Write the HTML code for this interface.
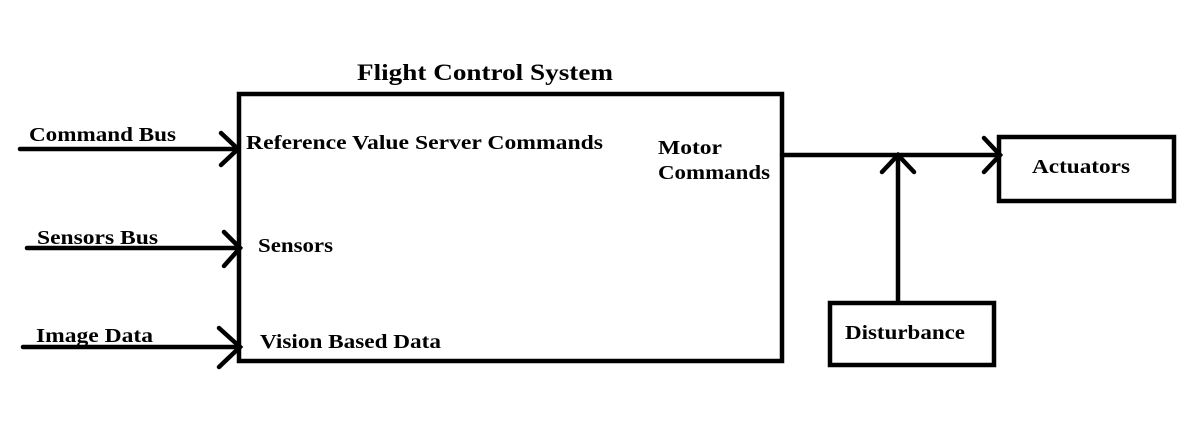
<!DOCTYPE html>
<html><head><style>
html,body{margin:0;padding:0;background:#fff;}
svg text{font-family:"Liberation Serif",serif;font-weight:bold;font-size:20px;fill:#000;}
</style></head><body>
<svg width="1189" height="428" viewBox="0 0 1189 428" xmlns="http://www.w3.org/2000/svg">
<g fill="none" stroke="#000" stroke-width="4.5" stroke-linecap="round" stroke-linejoin="miter">
<rect x="239" y="94" width="543" height="267"/>
<rect x="999" y="137" width="175" height="64"/>
<rect x="830" y="303" width="164" height="62"/>
<line x1="20" y1="149" x2="238" y2="149"/>
<polyline points="221,133 238,149 221,165"/>
<line x1="27" y1="248" x2="240" y2="248"/>
<polyline points="224,232 240,248 224,266"/>
<line x1="23" y1="347" x2="240" y2="347"/>
<polyline points="219,328 240,347 219,367"/>
<line x1="782" y1="155" x2="1000" y2="155"/>
<polyline points="984,138 1000,155 984,172"/>
<line x1="898" y1="155" x2="898" y2="301"/>
<polyline points="882,172 898,155 914,172"/>
</g>
<g lengthAdjust="spacingAndGlyphs">
<text x="357" y="80" style="font-size:23px" textLength="256" lengthAdjust="spacingAndGlyphs">Flight Control System</text>
<text x="29" y="141" textLength="147" lengthAdjust="spacingAndGlyphs">Command Bus</text>
<text x="246" y="149" textLength="357" lengthAdjust="spacingAndGlyphs">Reference Value Server Commands</text>
<text x="37" y="244" textLength="121" lengthAdjust="spacingAndGlyphs">Sensors Bus</text>
<text x="258" y="252" textLength="75" lengthAdjust="spacingAndGlyphs">Sensors</text>
<text x="36" y="342" textLength="117" lengthAdjust="spacingAndGlyphs">Image Data</text>
<text x="260" y="348" textLength="181" lengthAdjust="spacingAndGlyphs">Vision Based Data</text>
<text x="658" y="154" textLength="64" lengthAdjust="spacingAndGlyphs">Motor</text>
<text x="658" y="179" textLength="112" lengthAdjust="spacingAndGlyphs">Commands</text>
<text x="1032" y="173" textLength="98" lengthAdjust="spacingAndGlyphs">Actuators</text>
<text x="845" y="339" textLength="120" lengthAdjust="spacingAndGlyphs">Disturbance</text>
</g>
</svg>
</body></html>
